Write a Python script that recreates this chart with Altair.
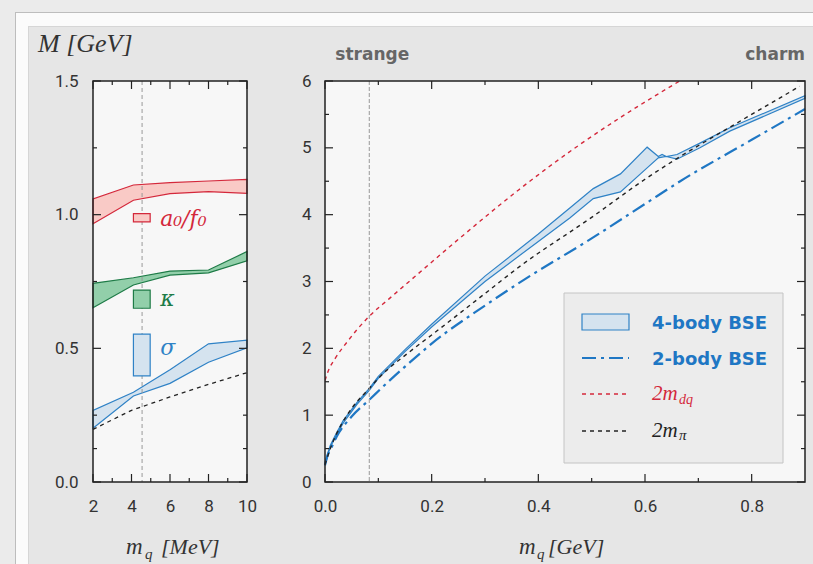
import altair as alt
import pandas as pd

# ---------------- left panel: light quarks, m_q in MeV ----------------
lq_x = [2, 4.1, 6, 8, 10]
a0_lo = [0.966, 1.054, 1.079, 1.086, 1.080]
a0_hi = [1.059, 1.111, 1.120, 1.126, 1.132]
kap_lo = [0.652, 0.737, 0.774, 0.782, 0.827]
kap_hi = [0.743, 0.764, 0.789, 0.793, 0.862]
sig_lo = [0.201, 0.322, 0.369, 0.448, 0.502]
sig_hi = [0.268, 0.336, 0.420, 0.517, 0.531]

pi_light_x = [2, 4, 6, 8, 10]
pi_light_y = [0.197, 0.268, 0.318, 0.365, 0.409]

phys_light = 4.55          # physical light-quark mass
exp_names = ["a₀/f₀", "κ", "σ"]
exp_lo = [0.973, 0.650, 0.397]
exp_hi = [1.004, 0.718, 0.553]
exp_x0, exp_x1 = 4.1, 4.97
exp_label_y = [0.984, 0.686, 0.50]

# ---------------- right panel: heavier quarks, m_q in GeV ----------------
q4_x = [0, 0.005, 0.01, 0.02, 0.034, 0.06, 0.083, 0.1, 0.15, 0.2, 0.3, 0.4,
        0.459, 0.503, 0.554, 0.604, 0.625, 0.632, 0.64, 0.66, 0.703, 0.759, 0.9]
q4_lo = [0.25, 0.40, 0.52, 0.68, 0.88, 1.16, 1.37, 1.55, 1.95, 2.32, 3.00, 3.60,
         3.95, 4.24, 4.34, 4.70, 4.85, 4.86, 4.87, 4.83, 5.00, 5.25, 5.74]
q4_hi = [0.29, 0.43, 0.55, 0.71, 0.92, 1.19, 1.40, 1.58, 1.98, 2.36, 3.08, 3.71,
         4.10, 4.39, 4.61, 5.01, 4.87, 4.90, 4.87, 4.90, 5.07, 5.30, 5.78]

b2_x = [0, 0.005, 0.01, 0.022, 0.05, 0.083, 0.12, 0.159, 0.2, 0.3, 0.378, 0.497,
        0.6, 0.666, 0.8, 0.9]
b2_y = [0.25, 0.40, 0.48, 0.68, 0.98, 1.23, 1.51, 1.79, 2.07, 2.64, 3.05, 3.63,
        4.16, 4.50, 5.12, 5.58]

dq_x = [0, 0.005, 0.02, 0.04, 0.06, 0.083, 0.12, 0.168, 0.25, 0.363, 0.478, 0.557, 0.665]
dq_y = [1.52, 1.64, 1.86, 2.08, 2.28, 2.48, 2.74, 3.07, 3.63, 4.37, 5.05, 5.47, 6.0]

pi_x = [0, 0.01, 0.03, 0.05, 0.083, 0.1, 0.159, 0.2, 0.3, 0.366, 0.5, 0.6, 0.662, 0.753, 0.89]
pi_y = [0.26, 0.50, 0.85, 1.10, 1.40, 1.55, 1.95, 2.20, 2.82, 3.23, 3.96, 4.53, 4.85, 5.28, 5.92]

m_strange = 0.083

# tick positions
xmaj_l, xmin_l = [2, 4, 6, 8, 10], [3, 5, 7, 9]
ymaj_l, ymin_l = [0, 0.5, 1.0, 1.5], [0.125, 0.25, 0.75, 1.25]
xmaj_r, xmin_r = [0, 0.2, 0.4, 0.6, 0.8], [0.1, 0.3, 0.5, 0.7]
ymaj_r, ymin_r = [0, 1, 2, 3, 4, 5, 6], [0.5, 1.5, 2.5, 3.5, 4.5, 5.5]

# ---------------- styling ----------------
INK = "#222222"
RED, RED_FILL = "#d4283b", "#f9cac6"
GREEN, GREEN_FILL = "#1e7b47", "#92cfaa"
BLUE, BLUE_FILL = "#2f82c6", "#d5e3ef"
BLUE_DARK = "#1f77c4"
PLOT_BG = "#f7f7f7"
SERIF = "Liberation Serif"
SANS_BOLD = "DejaVu Sans"
TICK_FONT = "Roboto"

W_L, W_R, H = 154, 480, 401
OX, OY = 93, 81           # page position of the left plot's origin
PAGE_W, PAGE_H = 813, 564


def one(**cols):
    return pd.DataFrame({k: [v] for k, v in cols.items()})


def label_axis(orient, values, fmt, pad):
    return alt.Axis(orient=orient, values=values, format=fmt, ticks=False, tickSize=0,
                    domain=False, grid=False, title=None, labelPadding=pad,
                    labelFont=TICK_FONT, labelFontSize=17, labelColor="#333333",
                    labelFlush=False, labelOverlap=False, zindex=3)


def box_ticks(xs, ys, w, xmaj, xmin, ymaj, ymin):
    """Inward ticks on all four sides of a plot box."""
    layers = []
    for vals, size in ((xmaj, 8), (xmin, 4)):
        d = pd.DataFrame({"v": vals})
        for y0, y1 in ((H, H - size), (0, size)):
            layers.append(alt.Chart(d).mark_rule(color=INK, strokeWidth=1.2).encode(
                x=alt.X("v:Q", scale=xs, axis=None), y=alt.value(y0), y2=alt.value(y1)))
    for vals, size in ((ymaj, 8), (ymin, 4)):
        d = pd.DataFrame({"v": vals})
        for x0, x1 in ((0, size), (w, w - size)):
            layers.append(alt.Chart(d).mark_rule(color=INK, strokeWidth=1.2).encode(
                y=alt.Y("v:Q", scale=ys, axis=None), x=alt.value(x0), x2=alt.value(x1)))
    return layers


def plot_bg(w):
    return alt.Chart(one(a=0)).mark_rect(fill=PLOT_BG).encode(
        x=alt.value(0), x2=alt.value(w), y=alt.value(0), y2=alt.value(H))


def plot_frame(w):
    return alt.Chart(one(a=0)).mark_rect(fillOpacity=0, stroke=INK, strokeWidth=1.5).encode(
        x=alt.value(0), x2=alt.value(w), y=alt.value(0), y2=alt.value(H))


def page_rect(x0, y0, x1, y1, color):
    """Card decoration, given in page pixels."""
    return alt.Chart(one(a=0)).mark_rect(fill=color).encode(
        x=alt.value(x0 - OX), x2=alt.value(x1 - OX),
        y=alt.value(y0 - OY), y2=alt.value(y1 - OY))


card = [
    page_rect(28, 26, PAGE_W, PAGE_H, "#e6e6e6"),
    page_rect(16, 13, PAGE_W, 26, "#fbfbfb"),
    page_rect(16, 13, 28, PAGE_H, "#fbfbfb"),
    page_rect(15, 12, PAGE_W, 13, "#bdbdbd"),
    page_rect(15, 12, 16, PAGE_H, "#bdbdbd"),
    page_rect(28, 26, PAGE_W, 27, "#d6d6d6"),
    page_rect(28, 26, 29, PAGE_H, "#d6d6d6"),
]


def serif_text(txt, x, y, size, color="#333333"):
    return alt.Chart(pd.DataFrame({"t": [txt]})).mark_text(
        align="left", baseline="alphabetic", font=SERIF, fontStyle="italic",
        fontSize=size, color=color
    ).encode(text="t:N", x=alt.value(x), y=alt.value(y))


# ======================= left panel =======================
xs_l = alt.Scale(domain=[2, 10], nice=False, zero=False)
ys_l = alt.Scale(domain=[0, 1.5], nice=False, zero=False)


def band_l(lo, hi, fill, stroke, xaxis=None, yaxis=None):
    df = pd.DataFrame({"x": lq_x, "lo": lo, "hi": hi})
    return alt.Chart(df).mark_area(fill=fill, stroke=stroke, strokeWidth=1.2).encode(
        x=alt.X("x:Q", scale=xs_l, axis=xaxis),
        y=alt.Y("lo:Q", scale=ys_l, axis=yaxis),
        y2="hi:Q",
    )


red_band = band_l(a0_lo, a0_hi, RED_FILL, RED,
                  label_axis("bottom", xmaj_l, "d", 16),
                  label_axis("left", ymaj_l, ".1f", 15))
green_band = band_l(kap_lo, kap_hi, GREEN_FILL, GREEN)
blue_band = band_l(sig_lo, sig_hi, BLUE_FILL, BLUE)

pi_light = alt.Chart(pd.DataFrame({"x": pi_light_x, "y": pi_light_y})).mark_line(
    color=INK, strokeDash=[4, 4], strokeWidth=1.3
).encode(x=alt.X("x:Q", scale=xs_l, axis=None), y=alt.Y("y:Q", scale=ys_l, axis=None))

phys_rule = alt.Chart(pd.DataFrame({"x": [phys_light]})).mark_rule(
    color="#999999", strokeDash=[4, 3], strokeWidth=1
).encode(x=alt.X("x:Q", scale=xs_l, axis=None))

exp_df = pd.DataFrame({
    "name": exp_names, "lo": exp_lo, "hi": exp_hi,
    "x0": [exp_x0] * 3, "x1": [exp_x1] * 3, "ly": exp_label_y,
    "fill": [RED_FILL, GREEN_FILL, BLUE_FILL], "stroke": [RED, GREEN, BLUE],
})
exp_boxes = alt.Chart(exp_df).mark_rect(strokeWidth=1.2).encode(
    x=alt.X("x0:Q", scale=xs_l, axis=None), x2="x1:Q",
    y=alt.Y("lo:Q", scale=ys_l, axis=None), y2="hi:Q",
    fill=alt.Fill("fill:N", scale=None), stroke=alt.Stroke("stroke:N", scale=None),
)
exp_labels = alt.Chart(exp_df).mark_text(
    align="left", baseline="middle", dx=10, font="DejaVu Serif",
    fontStyle="italic", fontSize=22
).encode(
    x=alt.X("x1:Q", scale=xs_l, axis=None),
    y=alt.Y("ly:Q", scale=ys_l, axis=None),
    text="name:N", color=alt.Color("stroke:N", scale=None),
)

y_title = serif_text("M [GeV]", -55, -29, 26)
xt_l = [serif_text("m", 33, H + 72, 23), serif_text("q", 52, H + 77, 15),
        serif_text("[MeV]", 68, H + 72, 22)]

left = alt.layer(
    *card, plot_bg(W_L),
    red_band, green_band, blue_band, pi_light, phys_rule, exp_boxes, exp_labels,
    *box_ticks(xs_l, ys_l, W_L, xmaj_l, xmin_l, ymaj_l, ymin_l), plot_frame(W_L),
    y_title, *xt_l
).properties(width=W_L, height=H).resolve_axis(x="independent", y="independent")

# ======================= right panel =======================
xs_r = alt.Scale(domain=[0, 0.9], nice=False, zero=False)
ys_r = alt.Scale(domain=[0, 6], nice=False, zero=False)

four_body = alt.Chart(pd.DataFrame({"x": q4_x, "lo": q4_lo, "hi": q4_hi})).mark_area(
    fill=BLUE_FILL, stroke=BLUE, strokeWidth=1.2
).encode(
    x=alt.X("x:Q", scale=xs_r, axis=label_axis("bottom", xmaj_r, ".1f", 16)),
    y=alt.Y("lo:Q", scale=ys_r, axis=label_axis("left", ymaj_r, "d", 14)),
    y2="hi:Q",
)
two_body = alt.Chart(pd.DataFrame({"x": b2_x, "y": b2_y})).mark_line(
    color=BLUE_DARK, strokeDash=[14, 5, 3, 5], strokeWidth=2.2, interpolate="monotone"
).encode(x=alt.X("x:Q", scale=xs_r, axis=None), y=alt.Y("y:Q", scale=ys_r, axis=None))
diquark = alt.Chart(pd.DataFrame({"x": dq_x, "y": dq_y})).mark_line(
    color=RED, strokeDash=[4, 4], strokeWidth=1.4, clip=True, interpolate="monotone"
).encode(x=alt.X("x:Q", scale=xs_r, axis=None), y=alt.Y("y:Q", scale=ys_r, axis=None))
two_pion = alt.Chart(pd.DataFrame({"x": pi_x, "y": pi_y})).mark_line(
    color=INK, strokeDash=[4, 4], strokeWidth=1.4, interpolate="monotone"
).encode(x=alt.X("x:Q", scale=xs_r, axis=None), y=alt.Y("y:Q", scale=ys_r, axis=None))
strange_rule = alt.Chart(pd.DataFrame({"x": [m_strange]})).mark_rule(
    color="#999999", strokeDash=[4, 2], strokeWidth=1
).encode(x=alt.X("x:Q", scale=xs_r, axis=None))

flavour_df = pd.DataFrame({"x": [m_strange, 0.9], "t": ["strange", "charm"]})
strange_txt = alt.Chart(flavour_df.iloc[[0]]).mark_text(
    align="center", baseline="alphabetic", dx=3, font=SANS_BOLD, fontWeight="bold",
    fontSize=17, color="#666666"
).encode(x=alt.X("x:Q", scale=xs_r, axis=None), y=alt.value(-21), text="t:N")
charm_txt = alt.Chart(flavour_df.iloc[[1]]).mark_text(
    align="right", baseline="alphabetic", font=SANS_BOLD, fontWeight="bold",
    fontSize=17, color="#666666"
).encode(x=alt.X("x:Q", scale=xs_r, axis=None), y=alt.value(-21), text="t:N")

# legend drawn in the lower right of the panel
leg_box = alt.Chart(one(a=0)).mark_rect(fill="#ececec", stroke="#c4c4c4", strokeWidth=1).encode(
    x=alt.value(239), x2=alt.value(458), y=alt.value(212), y2=alt.value(382))
leg_swatch = alt.Chart(one(a=0)).mark_rect(fill=BLUE_FILL, stroke=BLUE, strokeWidth=1.2).encode(
    x=alt.value(257), x2=alt.value(304), y=alt.value(233), y2=alt.value(249))
leg_lines = [
    alt.Chart(one(a=0)).mark_rule(color=BLUE_DARK, strokeDash=[14, 5, 3, 5], strokeWidth=2.2).encode(
        x=alt.value(257), x2=alt.value(304), y=alt.value(277)),
    alt.Chart(one(a=0)).mark_rule(color=RED, strokeDash=[4, 4], strokeWidth=1.4).encode(
        x=alt.value(257), x2=alt.value(304), y=alt.value(313)),
    alt.Chart(one(a=0)).mark_rule(color=INK, strokeDash=[4, 4], strokeWidth=1.4).encode(
        x=alt.value(257), x2=alt.value(304), y=alt.value(350)),
]


def bold_text(t, x, y):
    return alt.Chart(pd.DataFrame({"t": [t]})).mark_text(
        align="left", baseline="alphabetic", font=SANS_BOLD, fontWeight="bold",
        fontSize=18, color=BLUE_DARK
    ).encode(text="t:N", x=alt.value(x), y=alt.value(y))


leg_texts = [
    bold_text("4-body BSE", 327, 248),
    bold_text("2-body BSE", 327, 284),
    serif_text("2m", 327, 319, 21, RED), serif_text("dq", 354, 323, 14, RED),
    serif_text("2m", 327, 356, 21, INK), serif_text("π", 354, 359, 15, INK),
]
xt_r = [serif_text("m", 194, H + 72, 23), serif_text("q", 212, H + 77, 15),
        serif_text("[GeV]", 223, H + 72, 22)]

right = alt.layer(
    plot_bg(W_R),
    four_body, two_body, diquark, two_pion, strange_rule,
    *box_ticks(xs_r, ys_r, W_R, xmaj_r, xmin_r, ymaj_r, ymin_r), plot_frame(W_R),
    strange_txt, charm_txt,
    leg_box, leg_swatch, *leg_lines, *leg_texts, *xt_r
).properties(width=W_R, height=H).resolve_axis(x="independent", y="independent")

chart = alt.hconcat(left, right, spacing=78, bounds="flush").properties(
    padding={"left": 15, "top": 12, "right": 0, "bottom": 0},
    background="#ebebeb",
).configure_view(strokeWidth=0, fill="transparent")

chart.save("out.html", embed_options={"renderer": "svg", "actions": False})
